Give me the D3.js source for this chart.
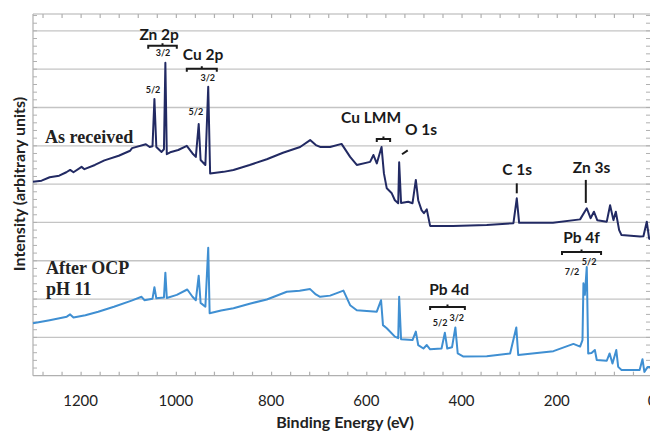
<!DOCTYPE html>
<html><head><meta charset="utf-8">
<script src="https://cdn.jsdelivr.net/npm/d3@7"></script>
<style>body{margin:0;background:#fff}svg{display:block}</style>
</head><body>
<svg id="c" width="650" height="432"></svg>
<script>
// ---- data (binding energy eV, intensity in arbitrary units) ----
const asReceived = [
[1300,5.06],[1282,5.09],[1265,5.18],[1245,5.22],[1230,5.31],[1222,5.37],[1215,5.31],[1198,5.45],[1192,5.39],[1170,5.50],[1150,5.62],[1120,5.74],[1096,5.87],[1092,5.94],
[1063,6.04],[1055,5.97],[1049,5.99],[1045,7.22],[1041,5.97],[1030,5.84],[1025,5.91],[1022,8.17],[1019,5.78],[1010,5.84],
[995,5.89],[977,6.00],[965,5.80],[958,5.71],[952,6.57],[948,5.63],[938,5.50],[932,7.54],[928,5.28],[900,5.32],[879,5.37],
[845,5.50],[809,5.65],[775,5.82],[739,5.97],[718,6.15],[706,6.02],[697,5.97],[676,5.97],[652,6.05],[634,5.71],[620,5.50],[592,5.58],
[585,5.76],[578,5.54],[568,5.97],[563,5.28],[557,4.89],[547,4.77],[540,4.58],[533,4.50],[531,5.57],[527,4.51],
[512,4.54],[503,4.50],[496,5.11],[491,4.58],[484,4.32],[479,4.24],[473,4.34],[466,3.91],[418,3.91],[347,3.93],
[291,3.98],[284,4.63],[279,3.99],[208,3.99],[151,4.08],[137,4.37],[129,4.11],[122,4.28],[115,4.06],[95,4.02],
[88,4.45],[81,4.06],[76,4.28],[69,3.80],[64,3.67],[25,3.63],[18,3.64],[11,4.02],[6,3.58],[0,3.54]
];
const afterOcp = [
[1300,1.37],[1265,1.45],[1229,1.54],[1222,1.60],[1215,1.52],[1190,1.58],[1163,1.67],[1130,1.80],[1093,1.96],[1072,2.06],[1066,1.97],[1049,2.01],[1045,2.31],
[1041,2.02],[1025,2.04],[1022,2.69],[1019,2.03],[998,2.11],[976,2.25],[965,2.06],[958,1.97],[952,2.61],[948,1.90],
[938,1.80],[932,3.34],[929,1.63],[905,1.70],[879,1.76],[845,1.88],[809,1.99],[767,2.19],[740,2.22],[718,2.26],[706,2.12],[697,2.06],[676,2.09],
[648,2.22],[634,1.84],[620,1.71],[578,1.67],[569,1.97],[565,1.32],[557,1.24],[540,1.02],[533,0.98],[531,2.06],
[527,0.95],[503,0.93],[496,1.15],[491,0.80],[480,0.71],[473,0.80],[466,0.69],[442,0.71],[435,1.12],[430,0.71],
[420,0.74],[413,1.26],[408,0.58],[396,0.50],[347,0.51],[298,0.58],[285,1.26],[281,0.54],[207,0.64],[165,0.83],
[151,0.76],[146,0.93],[144,2.41],[141,2.11],[137,2.84],[134,0.58],[127,0.59],[120,0.67],[116,0.41],[95,0.39],
[89,0.58],[83,0.32],[75,0.67],[71,0.23],[64,0.15],[26,0.15],[20,0.43],[16,0.10],[9,0.23],[5,0.23],[0,0.17]
];
const xTickLabels = [1200,1000,800,600,400,200,0];
const seriesNames = ["As received", "After OCP", "pH 11"];
const peakLabels = ["Zn 2p","Cu 2p","Cu LMM","O 1s","C 1s","Zn 3s","Pb 4f","Pb 4d"];

// ---- layout ----
const svg = d3.select("#c");
const x = d3.scaleLinear().domain([1300,0]).range([33,652]);
const y = d3.scaleLinear().domain([0,9.44]).range([375.7,14]);
const grid = "#c4c4c4", axisC = "#b0b0b0";

// gridlines
svg.append("g").selectAll("line").data(d3.range(1,10)).join("line")
  .attr("x1",33).attr("x2",652).attr("y1",d=>y(d)).attr("y2",d=>y(d))
  .attr("stroke",grid).attr("stroke-width",1.3);

// frame
svg.append("line").attr("x1",33).attr("x2",652).attr("y1",y(9.44)).attr("y2",y(9.44)).attr("stroke",axisC).attr("stroke-width",1.2);
svg.append("line").attr("x1",33).attr("x2",33).attr("y1",y(0)).attr("y2",y(9.44)).attr("stroke",axisC).attr("stroke-width",1.2);

// minor y ticks left and right
const yt = d3.range(1,48).map(i=>i*0.2);
svg.append("g").selectAll("line").data(yt).join("line")
  .attr("x1",33).attr("x2",37).attr("y1",d=>y(d)).attr("y2",d=>y(d)).attr("stroke",axisC);
svg.append("g").selectAll("line").data(yt).join("line")
  .attr("x1",646).attr("x2",650).attr("y1",d=>y(d)).attr("y2",d=>y(d)).attr("stroke",axisC);

// x axes (bottom with labels, top ticks only)
const xt = d3.range(1280,-1,-40);
const bottomAxis = svg.append("g").attr("transform",`translate(0,${y(0)})`)
  .call(d3.axisBottom(x).tickValues(xt).tickSize(-4).tickFormat(""));
bottomAxis.selectAll("path,line").attr("stroke",axisC).attr("stroke-width",1.2);
bottomAxis.select(".domain").attr("d",`M33,0H652`);
const topAxis = svg.append("g").attr("transform",`translate(0,${y(9.44)})`)
  .call(d3.axisTop(x).tickValues(xt).tickSize(-4).tickFormat(""));
topAxis.select(".domain").remove();
topAxis.selectAll("line").attr("stroke",axisC).attr("stroke-width",1.2);

svg.append("g").selectAll("text").data(xTickLabels).join("text")
  .attr("x",d=>x(d)).attr("y",406).attr("text-anchor","middle")
  .style("font-family","Lato").style("font-size","15px").attr("fill","#222").text(d=>d);

// axis titles
svg.append("text").attr("x",345).attr("y",428).attr("text-anchor","middle")
  .style("font-family","Lato").style("font-weight","bold").style("font-size","16px").attr("fill","#222")
  .text("Binding Energy (eV)");
svg.append("text").attr("transform","translate(25,184) rotate(-90)").attr("text-anchor","middle")
  .style("font-family","Lato").style("font-weight","bold").style("font-size","16px").attr("fill","#222")
  .text("Intensity (arbitrary units)");

// series
const line = d3.line().x(d=>x(d[0])).y(d=>y(d[1]));
svg.append("path").datum(afterOcp).attr("d",line).attr("fill","none")
  .attr("stroke","#3f8fd2").attr("stroke-width",2).attr("stroke-linejoin","round");
svg.append("path").datum(asReceived).attr("d",line).attr("fill","none")
  .attr("stroke","#222a63").attr("stroke-width",2).attr("stroke-linejoin","round");

// series labels
const serif = t=>t.style("font-family","Liberation Serif").style("font-weight","bold").style("font-size","18px").attr("fill","#222");
svg.append("text").attr("x",45).attr("y",y(6.08)).text(seriesNames[0]).call(serif);
svg.append("text").attr("x",46).attr("y",y(2.65)).text(seriesNames[1]).call(serif);
svg.append("text").attr("x",46).attr("y",y(2.105)).text(seriesNames[2]).call(serif);

// annotations
const ann = svg.append("g").attr("fill","#1a1a1a");
const big = [[peakLabels[0],1035,8.76],[peakLabels[1],943,8.24],[peakLabels[2],590,6.59],[peakLabels[3],485,6.28],
             [peakLabels[4],283,5.24],[peakLabels[5],127,5.29],[peakLabels[6],148,3.46],[peakLabels[7],426,2.11]];
ann.selectAll("text.big").data(big).join("text").attr("class","big")
  .attr("x",d=>x(d[1])).attr("y",d=>y(d[2])).attr("text-anchor","middle")
  .style("font-family","Lato").style("font-weight","bold").style("font-size","15.5px").text(d=>d[0]);
const small = [["3/2",1027,8.34],["5/2",1048,7.38],["3/2",933,7.69],["5/2",958,6.80],
               ["7/2",168,2.63],["5/2",132,2.89],["5/2",445,1.30],["3/2",410,1.43]];
ann.selectAll("text.sm").data(small).join("text").attr("class","sm")
  .attr("x",d=>x(d[1])).attr("y",d=>y(d[2])).attr("text-anchor","middle")
  .style("font-family","Lato").style("font-weight","bold").style("font-size","9px").text(d=>d[0]);
// brackets [eV1, eV2, y]
const brackets = [[1058,998,8.61],[977,914,8.01],[466,393,1.79],[189,107,3.23]];
ann.selectAll("path.br").data(brackets).join("path").attr("class","br")
  .attr("d",d=>{const a=x(d[0]),b=x(d[1]),yy=y(d[2]),m=(a+b)/2;
    return `M${a},${yy+3}V${yy}H${b}V${yy+3}M${m},${yy}V${yy-2.5}`;})
  .attr("fill","none").attr("stroke","#1a1a1a").attr("stroke-width",2);
// Cu LMM brace
ann.append("path").attr("d",()=>{const a=x(578),b=x(550),yy=y(6.18),m=(a+b)/2;
    return `M${a},${yy+3}V${yy}H${b}V${yy+3}M${m},${yy}V${yy-2.5}`;})
  .attr("fill","none").attr("stroke","#1a1a1a").attr("stroke-width",2);
// O 1s dash, C 1s tick, Zn 3s tick
ann.append("line").attr("x1",x(525)).attr("y1",y(5.78)).attr("x2",x(513)).attr("y2",y(5.88)).attr("stroke","#1a1a1a").attr("stroke-width",2);
ann.append("line").attr("x1",x(284)).attr("y1",y(5.02)).attr("x2",x(284)).attr("y2",y(4.76)).attr("stroke","#1a1a1a").attr("stroke-width",2);
ann.append("line").attr("x1",x(139)).attr("y1",y(5.11)).attr("x2",x(139)).attr("y2",y(4.51)).attr("stroke","#1a1a1a").attr("stroke-width",2);
</script>
</body></html>
